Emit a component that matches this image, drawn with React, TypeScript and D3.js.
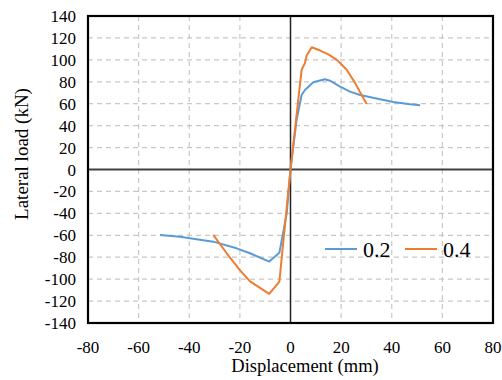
import React from "react";
import * as d3 from "d3";

const xTicks = [-80, -60, -40, -20, 0, 20, 40, 60, 80];
const yTicks = [-140, -120, -100, -80, -60, -40, -20, 0, 20, 40, 60, 80, 100, 120, 140];

const series02X = [-51.6, -43.7, -30.5, -21.3, -16, -8.4, -4.4, -1.5, 0, 2.4, 4.4, 5.7, 9, 13.6, 15.6, 19.6, 23.5, 27.5, 35.4, 40.6, 47.2, 51.2];
const series02Y = [-59.7, -61.3, -65.8, -71.9, -76.4, -84, -76, -40, 0, 45, 68, 72.5, 79.5, 82.3, 81, 75.5, 71, 68, 64, 61.5, 59.5, 58.5];

const series04X = [-30.5, -25.2, -20, -16, -8.4, -4.4, 0, 4.4, 5.7, 6.4, 8.4, 11.7, 15, 18.3, 22.2, 25.5, 28.1, 30.1];
const series04Y = [-59.7, -76.4, -91.7, -102, -113.5, -102.3, 0, 91, 97, 104, 111.5, 108.5, 105, 100, 91, 79, 68, 59.7];

const seriesNames = ["0.2", "0.4"];
const colors = ["#5B9BD5", "#ED7D31"];

const W = 502;
const H = 380;
const left = 88;
const right = 493;
const top = 16;
const bottom = 323;

const FONT = "Liberation Serif";

export default function App() {
  const x = d3.scaleLinear().domain([-80, 80]).range([left, right]);
  const y = d3.scaleLinear().domain([-140, 140]).range([bottom, top]);
  const line = d3
    .line<[number, number]>()
    .x((d) => x(d[0]))
    .y((d) => y(d[1]));
  const s1: [number, number][] = series02X.map((v, i) => [v, series02Y[i]]);
  const s2: [number, number][] = series04X.map((v, i) => [v, series04Y[i]]);
  const ts = { fontFamily: FONT };

  return (
    <svg
      width={W}
      height={H}
      style={{ position: "absolute", left: 0, top: 0, background: "#fff", fontFamily: FONT }}
    >
      <rect x={0} y={0} width={W} height={H} fill="#fff" />
      {xTicks.slice(1, -1).filter((t) => t !== 0).map((t) => (
        <line
          key={"gx" + t}
          x1={x(t)}
          x2={x(t)}
          y1={top}
          y2={bottom}
          stroke="#c8c8c8"
          strokeWidth={1.2}
          strokeDasharray="5,4"
        />
      ))}
      {yTicks.slice(1, -1).filter((t) => t !== 0).map((t) => (
        <line
          key={"gy" + t}
          x1={left}
          x2={right}
          y1={y(t)}
          y2={y(t)}
          stroke="#c8c8c8"
          strokeWidth={1.2}
          strokeDasharray="5,4"
        />
      ))}
      <line x1={left} x2={right} y1={y(0)} y2={y(0)} stroke="#404040" strokeWidth={2} />
      <line x1={x(0)} x2={x(0)} y1={top} y2={bottom} stroke="#222" strokeWidth={1.5} />
      <rect
        x={left}
        y={top}
        width={right - left}
        height={bottom - top}
        fill="none"
        stroke="#000"
        strokeWidth={2.2}
      />
      <path d={line(s1) || ""} fill="none" stroke={colors[0]} strokeWidth={2} strokeLinejoin="round" />
      <path d={line(s2) || ""} fill="none" stroke={colors[1]} strokeWidth={2} strokeLinejoin="round" />
      {xTicks.map((t) => (
        <text key={"xl" + t} x={x(t)} y={353} textAnchor="middle" fontSize={17} fill="#000" style={ts}>
          {t}
        </text>
      ))}
      {yTicks.map((t) => (
        <text key={"yl" + t} x={76} y={y(t) + 6} textAnchor="end" fontSize={17} fill="#000" style={ts}>
          {t}
        </text>
      ))}
      <text x={305} y={372} textAnchor="middle" fontSize={18.5} fill="#000" style={ts}>
        Displacement (mm)
      </text>
      <text
        transform={`translate(28, 154) rotate(-90)`}
        textAnchor="middle"
        fontSize={19}
        fill="#000"
        style={ts}
      >
        Lateral load (kN)
      </text>
      <line x1={325} x2={357} y1={249} y2={249} stroke={colors[0]} strokeWidth={2} />
      <text x={363} y={257} fontSize={22} fill="#000" style={ts}>
        {seriesNames[0]}
      </text>
      <line x1={405} x2={437} y1={249} y2={249} stroke={colors[1]} strokeWidth={2} />
      <text x={443} y={257} fontSize={22} fill="#000" style={ts}>
        {seriesNames[1]}
      </text>
    </svg>
  );
}
